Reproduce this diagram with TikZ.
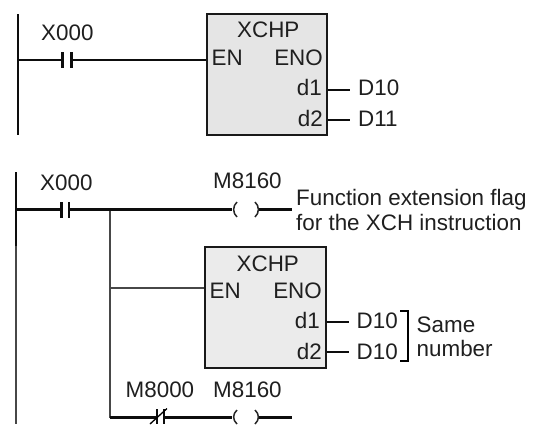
\documentclass[tikz,border=0pt]{standalone}
\usepackage{fontspec}
\setmainfont{Liberation Sans}
\tikzset{
  x=1pt,y=-1pt,
  wire/.style={line width=2.2pt,color=black!95},
  thin wire/.style={line width=2.1pt,color=black!72},
  lbl/.style={inner sep=0pt,anchor=base west,font=\fontsize{22.4}{24}\selectfont,text=black!88},
  lblr/.style={lbl,anchor=base east},
  fb/.style={draw=black!90,line width=2.2pt,inner sep=0pt,minimum width=120pt,minimum height=121pt},
  coilarc/.style={line width=1.5pt,color=black!85},
}
\begin{document}
\begin{tikzpicture}
\useasboundingbox (0,0) rectangle (540,424);
% ---- top ladder
\coordinate (r1t) at (18,14); \coordinate (r1b) at (18,135);
\draw[wire] (r1t) -- (r1b);
\node[fb,fill=black!10] (fb1) at (267,74.5) {};
\coordinate (r1) at (18,60); \coordinate (c1a) at (62.5,60); \coordinate (c1b) at (71.5,60);
\coordinate (en1) at (fb1.west |- r1);
\draw[wire] (r1) -- (c1a); \draw[wire] (c1b) -- (en1);
\draw[wire] (62.5,52) -- (62.5,68); \draw[wire] (71.5,52) -- (71.5,68);
\node[lbl] at (41,40) {X000};
\node[lbl] (t1) at (237,37.5) {XCHP};
\node[lbl] at (211.5,65.5) {EN};
\node[lblr] at (323,65.5) {ENO};
\node[lblr] at (322,95.5) {d1};
\node[lblr] at (323,126) {d2};
\node[lbl] (d10a) at (358,95.5) {D10};
\node[lbl] (d11a) at (358,126) {D11};
\draw[wire] (fb1.east |- 0,90) -- (350,90);
\draw[wire] (fb1.east |- 0,120) -- (350,120);
% ---- bottom ladder
\coordinate (r2t) at (16,172); \coordinate (r2m) at (16,246); \coordinate (r2b) at (16,424);
\draw[thin wire] (r2m) -- (r2b);
\draw[wire] (r2t) -- (r2m);
\node[fb,fill=black!8,minimum width=121pt] (fb2) at (265.5,307.5) {};
\coordinate (b0) at (110,209.5); \coordinate (b1) at (110,288); \coordinate (b2) at (110,417.5);
\draw[thin wire] (b0) -- (b2);
\draw[wire] (16,209.5) -- (61.5,209.5);
\draw[wire] (69,209.5) -- (232,209.5);
\draw[wire] (61.5,202) -- (61.5,218); \draw[wire] (69,202) -- (69,218);
\draw[thin wire] (b1) -- (fb2.west |- b1);
% coil 1
\draw[coilarc] (237,202) .. controls (232.5,206) and (232.5,213) .. (237,217);
\draw[coilarc] (255,202) .. controls (259.5,206) and (259.5,213) .. (255,217);
\draw[wire] (259,209.5) -- (292,209.5);
% bottom rung
\draw[wire] (b2) -- (157,417.5);
\draw[wire] (164,417.5) -- (232,417.5);
\draw[wire] (157,409) -- (157,424); \draw[wire] (164,409) -- (164,424);
\draw[line width=1.3pt] (150,424) -- (167,408.5);
\draw[coilarc] (237,410) .. controls (232.5,414) and (232.5,420) .. (237,424);
\draw[coilarc] (255,410) .. controls (259.5,414) and (259.5,420) .. (255,424);
\draw[wire] (259,417.5) -- (292,417.5);
\node[lbl] at (40,190) {X000};
\node[lbl] at (213,188.5) {M8160};
\node[lbl] at (296,205) {Function extension flag};
\node[lbl] at (296,230) {for the XCH instruction};
\node[lbl] at (236.5,271) {XCHP};
\node[lbl] at (209.5,298) {EN};
\node[lblr] at (322,298) {ENO};
\node[lblr] at (320,328.5) {d1};
\node[lblr] at (322,359) {d2};
\draw[wire] (fb2.east |- 0,322) -- (349,322);
\draw[wire] (fb2.east |- 0,352) -- (349,352);
\node[lbl] at (356.5,328.5) {D10};
\node[lbl] at (356.5,359) {D10};
\node[lbl] at (416.5,332) {Same};
\node[lbl] at (416.5,356) {number};
\draw[line width=1.4pt] (400,311) -- (408,311) -- (408,361) -- (400,361);
\node[lbl] at (125.5,397) {M8000};
\node[lbl] at (213,397) {M8160};
\end{tikzpicture}
\end{document}
